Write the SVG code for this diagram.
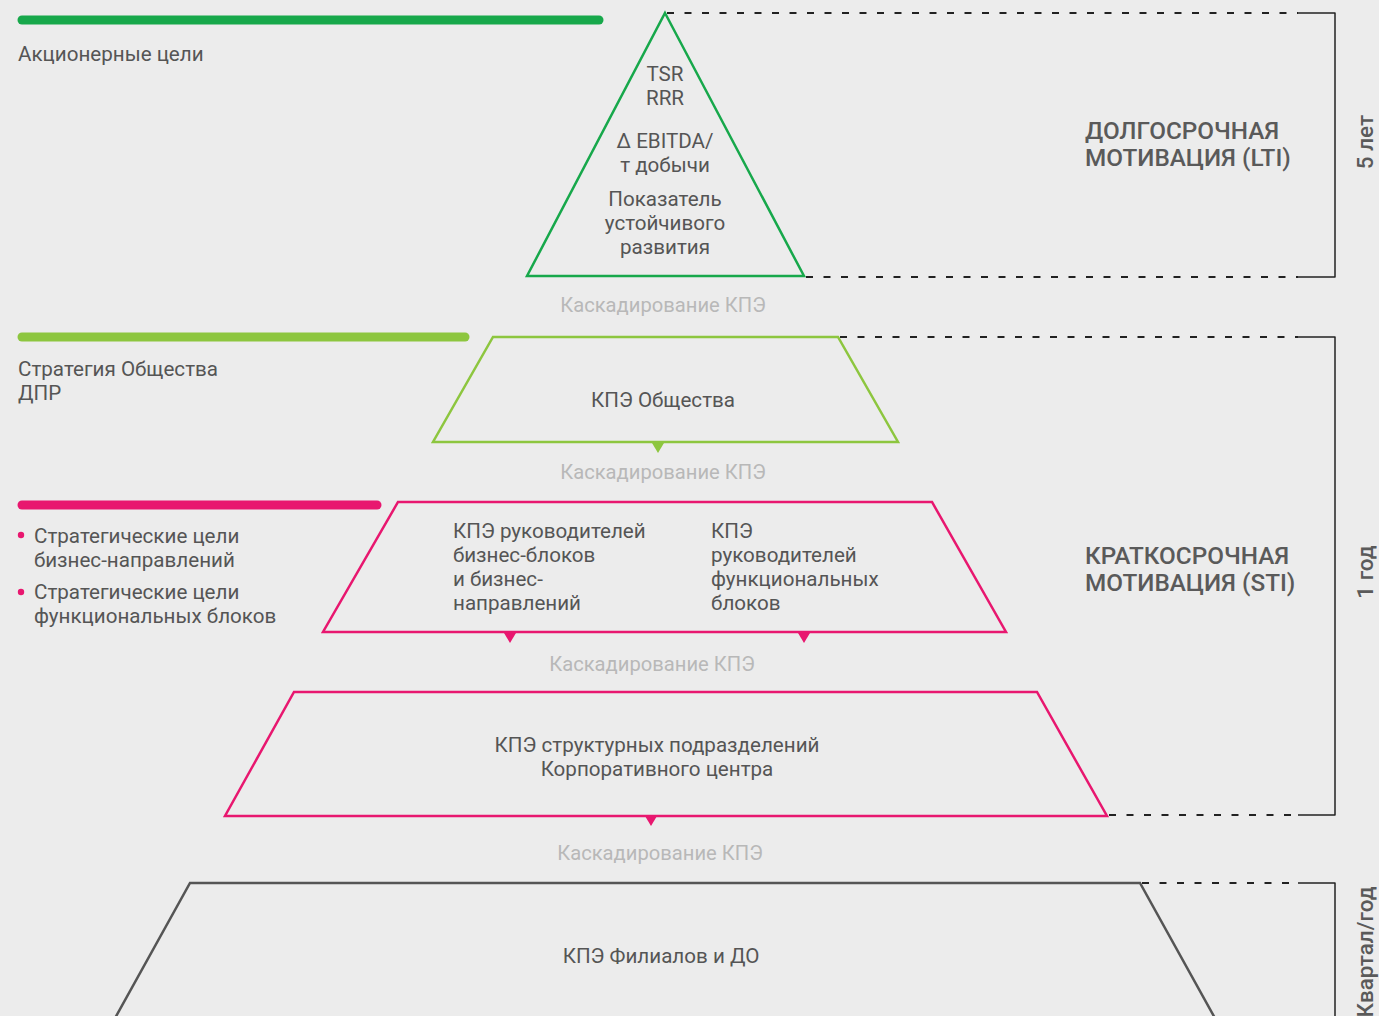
<svg xmlns="http://www.w3.org/2000/svg" width="1379" height="1016" viewBox="0 0 1379 1016">
<style>
.t{font-family:Roboto,"Liberation Sans",sans-serif;font-size:20.6px;fill:#555555}
.c{text-anchor:middle}
.k{font-family:Roboto,"Liberation Sans",sans-serif;font-size:20.2px;fill:#b8b8b8;text-anchor:middle}
.h{font-family:Roboto,"Liberation Sans",sans-serif;font-size:24.3px;font-weight:500;fill:#5a5a5a}
.v{font-family:Roboto,"Liberation Sans",sans-serif;font-size:22.5px;font-weight:500;fill:#5a5a5a;text-anchor:middle}
.bar{stroke-width:9;stroke-linecap:round;fill:none}
.dash{stroke:#222;stroke-width:1.8;stroke-dasharray:7 10.5;fill:none}
.br{stroke:#222;stroke-width:1.5;fill:none;stroke-linejoin:round}
.sh{fill:none;stroke-width:2.5;stroke-linejoin:miter}
</style>
<rect width="1379" height="1016" fill="#ececec"/>

<g id="bars">
<line class="bar" x1="22" y1="20" x2="599" y2="20" stroke="#17a84b"/>
<line class="bar" x1="22" y1="337" x2="465" y2="337" stroke="#8dc63f"/>
<line class="bar" x1="22" y1="505" x2="377" y2="505" stroke="#e8176f"/>
</g>

<g id="connectors">
<line class="dash" x1="667" y1="13" x2="1298" y2="13"/>
<line class="dash" x1="806" y1="277" x2="1298" y2="277"/>
<path class="br" d="M1298 13 H1335 V277 H1298"/>
<line class="dash" x1="840" y1="337" x2="1298" y2="337"/>
<line class="dash" x1="1109" y1="815" x2="1298" y2="815"/>
<path class="br" d="M1298 337 H1335 V815 H1298"/>
<line class="dash" x1="1142" y1="883" x2="1298" y2="883"/>
<path class="br" d="M1298 883 H1335 V1020"/>
<polygon points="652,443 664,443 658,453" fill="#8dc63f"/>
<polygon points="504,633 516,633 510,643" fill="#e8176f"/>
<polygon points="798,633 810,633 804,643" fill="#e8176f"/>
<polygon points="645,816 657,816 651,826" fill="#e8176f"/>
</g>

<g id="left-labels">
<text class="t" x="18" y="61">Акционерные цели</text>
<text class="t" x="18" y="376">Стратегия Общества</text>
<text class="t" x="18" y="400">ДПР</text>
<circle cx="21" cy="535" r="3.2" fill="#e8176f"/>
<text class="t" x="34" y="543">Стратегические цели</text>
<text class="t" x="34" y="567">бизнес-направлений</text>
<circle cx="21" cy="592" r="3.2" fill="#e8176f"/>
<text class="t" x="34" y="599">Стратегические цели</text>
<text class="t" x="34" y="623">функциональных блоков</text>
</g>

<g id="node-lti">
<polygon class="sh" points="665,13 804,276 527,276" stroke="#17a84b"/>
<text class="t c" x="665" y="81">TSR</text>
<text class="t c" x="665" y="105">RRR</text>
<text class="t c" x="665" y="148">Δ EBITDA/</text>
<text class="t c" x="665" y="172">т добычи</text>
<text class="t c" x="665" y="206">Показатель</text>
<text class="t c" x="665" y="230">устойчивого</text>
<text class="t c" x="665" y="254">развития</text>
</g>
<text class="k" x="663" y="312">Каскадирование КПЭ</text>

<g id="node-company">
<polygon class="sh" points="493,337 838,337 898,442 433,442" stroke="#8dc63f"/>
<text class="t c" x="663" y="407">КПЭ Общества</text>
</g>
<text class="k" x="663" y="479">Каскадирование КПЭ</text>

<g id="node-heads">
<polygon class="sh" points="398,502 932,502 1006,632 323,632" stroke="#e8176f"/>
<text class="t" x="453" y="538">КПЭ руководителей</text>
<text class="t" x="453" y="562">бизнес-блоков</text>
<text class="t" x="453" y="586">и бизнес-</text>
<text class="t" x="453" y="610">направлений</text>
<text class="t" x="711" y="538">КПЭ</text>
<text class="t" x="711" y="562">руководителей</text>
<text class="t" x="711" y="586">функциональных</text>
<text class="t" x="711" y="610">блоков</text>
</g>
<text class="k" x="652" y="671">Каскадирование КПЭ</text>

<g id="node-units">
<polygon class="sh" points="294,692 1037,692 1107,816 225,816" stroke="#e8176f"/>
<text class="t c" x="657" y="752">КПЭ структурных подразделений</text>
<text class="t c" x="657" y="776">Корпоративного центра</text>
</g>
<text class="k" x="660" y="860">Каскадирование КПЭ</text>

<g id="node-branches">
<path class="sh" d="M114 1020 L190 883 H1140 L1216 1020" stroke="#555555"/>
<text class="t c" x="661" y="963">КПЭ Филиалов и ДО</text>
</g>

<g id="right-labels">
<text class="h" x="1085" y="139">ДОЛГОСРОЧНАЯ</text>
<text class="h" x="1085" y="166">МОТИВАЦИЯ (LTI)</text>
<text class="h" x="1085" y="564">КРАТКОСРОЧНАЯ</text>
<text class="h" x="1085" y="591">МОТИВАЦИЯ (STI)</text>
<text class="v" transform="translate(1373,142) rotate(-90)">5 лет</text>
<text class="v" transform="translate(1373,572) rotate(-90)">1 год</text>
<text class="v" transform="translate(1373,952) rotate(-90)">Квартал/год</text>
</g>
</svg>
